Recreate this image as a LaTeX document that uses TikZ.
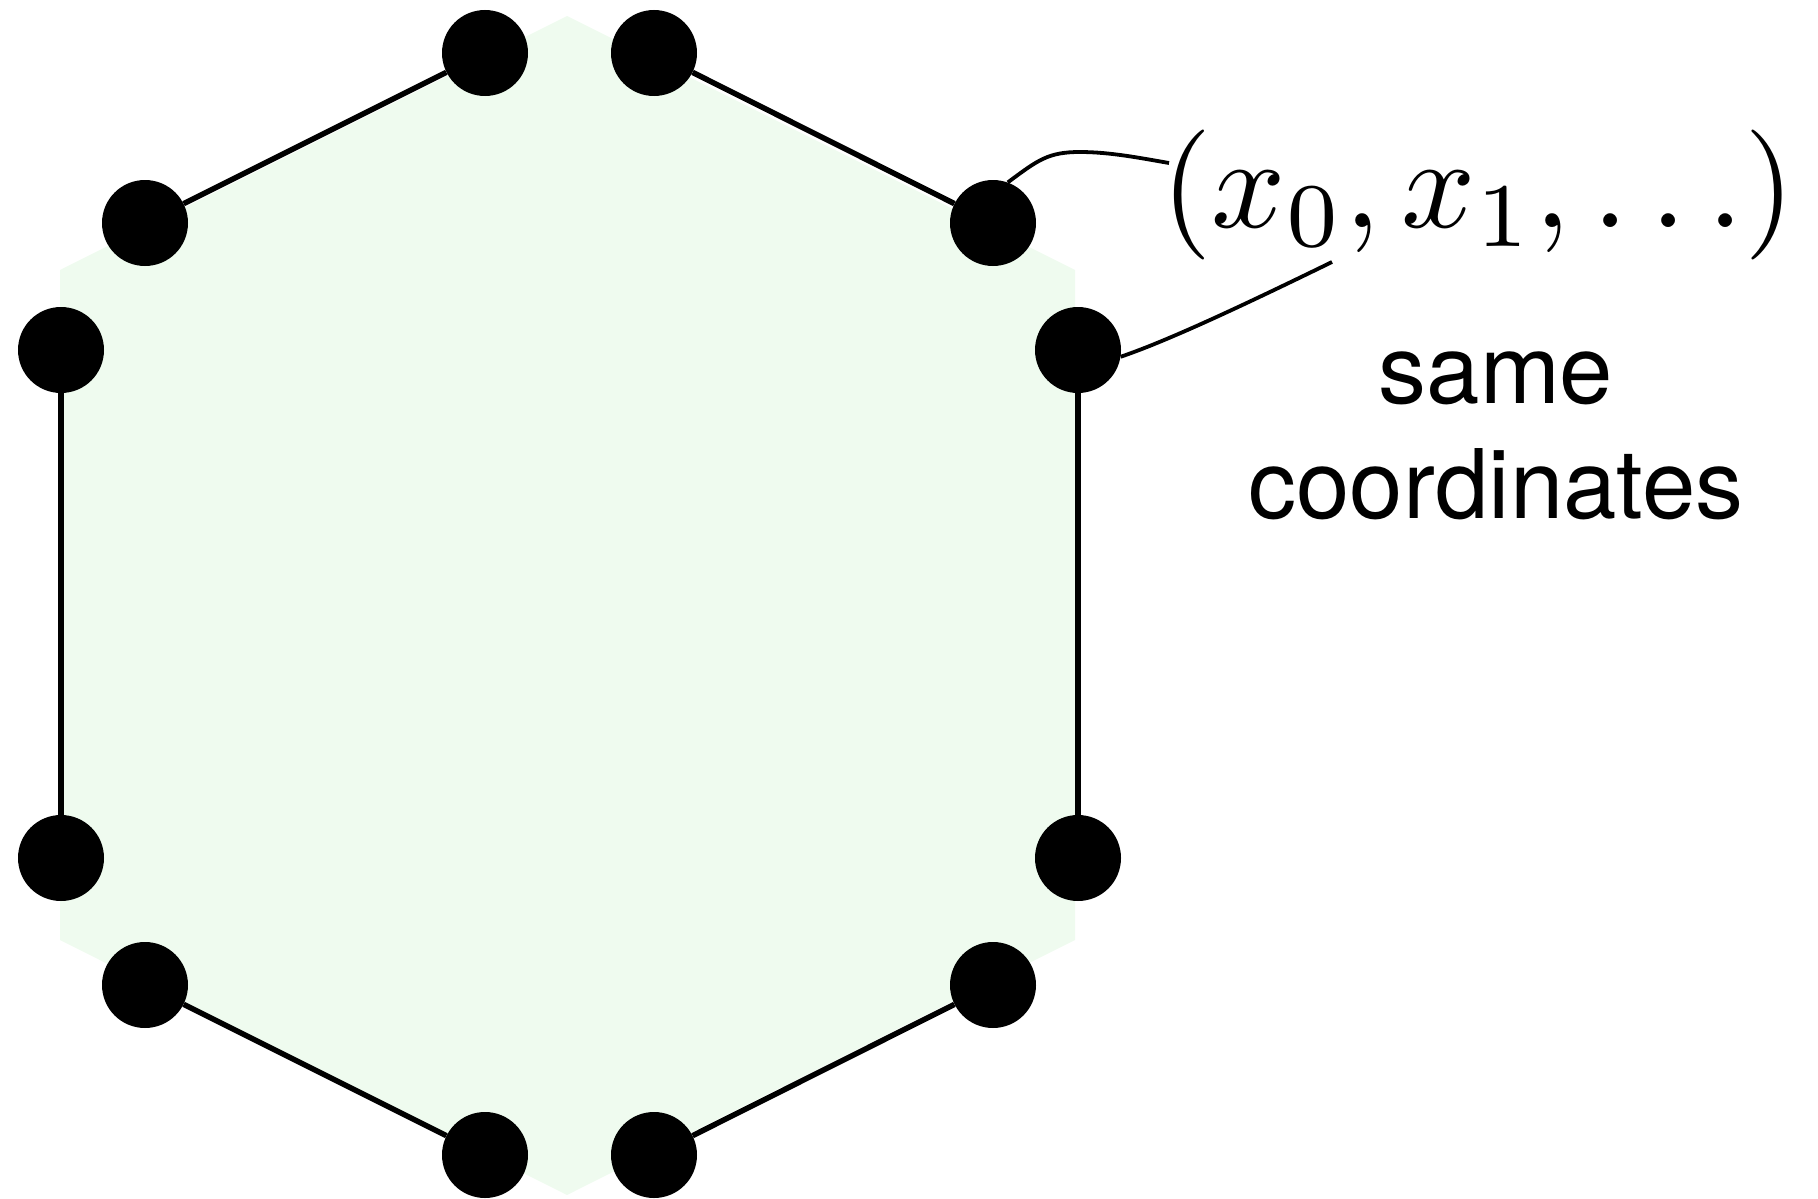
\documentclass[tikz,border=0pt]{standalone}
\usepackage{fontspec}
\newfontfamily\herosfont{TeX Gyre Heros}
\definecolor{hexfill}{RGB}{239,251,239}
\tikzset{
  dot/.style={circle, fill=black, draw=none, minimum size=86pt, inner sep=0pt},
  edge/.style={line width=5.5pt, black},
  leader/.style={line width=3.8pt, black},
}
\begin{document}
\begin{tikzpicture}[x=1pt, y=-1pt]
\useasboundingbox (0,0) rectangle (1818,1199);
% pale green hexagon
\fill[hexfill] (567,16) -- (1075,270) -- (1075,940) -- (567,1195) -- (60,940) -- (60,270) -- cycle;
% vertex dots
\node[dot] (t1) at (485,53) {};
\node[dot] (t2) at (654,53) {};
\node[dot] (ul) at (145,223) {};
\node[dot] (ur) at (993,223) {};
\node[dot] (l1) at (61,350) {};
\node[dot] (r1) at (1078,350) {};
\node[dot] (l2) at (61,858) {};
\node[dot] (r2) at (1078,858) {};
\node[dot] (bl) at (145,985) {};
\node[dot] (br) at (993,985) {};
\node[dot] (b1) at (485,1155) {};
\node[dot] (b2) at (654,1155) {};
% edges
\draw[edge] (ul) -- (t1);
\draw[edge] (t2) -- (ur);
\draw[edge] (l1) -- (l2);
\draw[edge] (r1) -- (r2);
\draw[edge] (bl) -- (b1);
\draw[edge] (b2) -- (br);
% label
\node[anchor=base, inner sep=0pt, scale=13] (lab) at (1478,227) {$(x_0,x_1,\ldots)$};
\node[anchor=north, inner sep=0pt, align=center, font=\herosfont\fontsize{96}{115}\selectfont] (same) at (1496,352) {same\\coordinates};
\coordinate (c1) at (1169,163);
\coordinate (c2) at (1332,262);
\draw[leader] (ur.70) .. controls (1038,160) and (1048,152) .. (1080,152) .. controls (1110,152) and (1140,158) .. (c1);
\draw[leader] (c2) .. controls (1250,302) and (1170,340) .. (r1.-9);
\end{tikzpicture}
\end{document}
